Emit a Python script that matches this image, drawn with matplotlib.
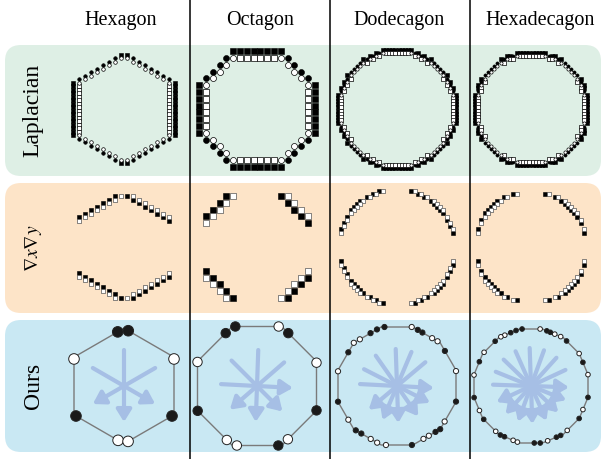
import numpy as np
import matplotlib.pyplot as plt
from matplotlib.patches import FancyBboxPatch, Circle, Polygon
from matplotlib.path import Path

plt.rcParams['font.family'] = ['Liberation Serif', 'DejaVu Serif']
plt.rcParams['mathtext.fontset'] = 'stix'

shape_names = ['Hexagon', 'Octagon', 'Dodecagon', 'Hexadecagon']
n_sides = [6, 8, 12, 16]
pointy_top = [True, False, False, False]
method_names = ['Laplacian', r'$\nabla x\nabla y$', 'Ours']

# boundary samples for "Ours": direction from the centre (deg) and filled (1) / hollow (0)
hexagon_dot_deg = [96.6, 85.6, 151.6, 28.4, -148, -32, -96.2, -85.8]
hexagon_dot_fill = [1, 1, 0, 0, 1, 1, 0, 0]
octagon_dot_deg = [120.6, 110, 70, 59.4, 158, -157.3, 21.4, -22.3, -119.2, -108.7, -70.3, -59.9]
octagon_dot_fill = [1, 1, 0, 1, 0, 1, 0, 1, 0, 0, 1, 0]
dodecagon_dot_deg = [116.6, 109.5, 102.0, 76.0, 69.7, 64.6, 53.7, 47.8, 36.2, 14.2, -14.8,
                     -36.7, -45, -50, -57.4, -63.4, -75.8, -100.6, -109.3, -116.4, -126.9,
                     -132.9, -145.3, -165.1, 166, 145.3, 135, 128.5]
dodecagon_dot_fill = [1, 1, 1, 0, 1, 1, 0, 0, 1, 0, 1,
                      0, 1, 1, 0, 0, 1, 0, 0, 0, 1,
                      1, 0, 1, 0, 1, 0, 0]
hexadecagon_dot_deg = [98.9, 105.1, 110.8, 117.3, 121.5, 128.7, 144.3, 154.8, 169.1, -168.5,
                       -154.6, -144.8, -127.9, -122, -117.6, -108.2, -103.6, -86.7, -80.8,
                       -73.1, -63.6, -59, -50.8, -34, -24.4, -11.3, 11.3, 24.5, 34, 51.7,
                       59, 65.4, 70.2, 74, 80.9]
hexadecagon_dot_fill = [1, 1, 1, 0, 0, 1, 0, 1, 0, 1,
                        0, 1, 0, 1, 1, 0, 0, 1, 1,
                        0, 1, 1, 0, 1, 0, 1, 0, 1, 0, 1,
                        0, 0, 1, 1, 0]

# arrow head directions (deg), each arrow runs through the centre
hexagon_arrow_deg = [-90, -150, -30]
octagon_arrow_deg = [-3, -45, -92, -139]
dodecagon_arrow_deg = [-3, -27, -55, -88, -113, -140]
hexadecagon_arrow_deg = [-2, -22, -44, -66, -88, -110, -132, -155]

dot_deg = [hexagon_dot_deg, octagon_dot_deg, dodecagon_dot_deg, hexadecagon_dot_deg]
dot_fill = [hexagon_dot_fill, octagon_dot_fill, dodecagon_dot_fill, hexadecagon_dot_fill]
arrow_deg = [hexagon_arrow_deg, octagon_arrow_deg, dodecagon_arrow_deg, hexadecagon_arrow_deg]

# layout (pixel units, y down)
col_x = [124, 257, 397, 531]
row_y = [109, 247, 386]
header_x = [121, 260, 399, 540]
grid_apothem = [48, 54, 57, 55.5]
cell_size = [(6.0, 3.5), (6.8, 6.8), (3.2, 3.2), (3.2, 3.2)]
lap_marker_px = [3.6, 6.0, 3.3, 3.2]
grad_marker_px = [4.0, 5.2, 3.4, 3.3]
ours_apothem = [50, 59.5, 59, 57]
dot_radius = [5.3, 4.7, 2.6, 2.3]
arrow_half = [36, 36, 37, 38]
arrow_color = '#a6bfe5'


def vertices(cx, cy, apothem, n, pointy):
    R = apothem / np.cos(np.pi / n)
    start = 90.0 if pointy else 90.0 + 180.0 / n
    a = np.deg2rad(start + 360.0 * np.arange(n) / n)
    return np.c_[cx + R * np.cos(a), cy - R * np.sin(a)]


def radius_at(theta, apothem, n, pointy):
    start = 90.0 if pointy else 90.0 + 180.0 / n
    normals = np.deg2rad(start + 180.0 / n + 360.0 * np.arange(n) / n)
    return apothem / np.max(np.cos(np.deg2rad(theta) - normals))


def boundary_cells(cx, cy, verts, hx, hy):
    m = int(72 / min(hx, hy)) + 1
    k = np.arange(-m, m)
    gx, gy = np.meshgrid(cx + (k + 0.5) * hx, cy + (k + 0.5) * hy)
    inside = Path(verts).contains_points(np.c_[gx.ravel(), gy.ravel()]).reshape(gx.shape)
    p = np.pad(inside, 1)
    left, right = p[1:-1, :-2], p[1:-1, 2:]
    up, down = p[:-2, 1:-1], p[2:, 1:-1]
    h_out, v_out = ~left | ~right, ~up | ~down
    h_in, v_in = left | right, up | down
    cells = {
        'inner': inside & (h_out | v_out),
        'inner_corner': inside & h_out & v_out,
        'outer': ~inside & (h_in | v_in),
        'outer_corner': ~inside & h_in & v_in,
    }
    return gx, gy, cells


def dots(ax, x, y, px, marker, filled, ec='black'):
    s = (px * 0.72) ** 2
    if filled:
        ax.scatter(x, y, s=s, marker=marker, facecolor='black', edgecolor='black', linewidths=0.4, zorder=3)
    else:
        ax.scatter(x, y, s=s, marker=marker, facecolor='white', edgecolor=ec, linewidths=0.5, zorder=3)


fig = plt.figure(figsize=(6.02, 4.59), dpi=100)
ax = fig.add_axes([0, 0, 1, 1])
ax.set_xlim(0, 602)
ax.set_ylim(459, 0)
ax.axis('off')

# coloured row bands
panel_colors = ['#deefe5', '#fde4c8', '#c9e8f3']
panel_top = [45, 183, 320]
panel_bottom = [176, 313, 452]
for c, t, b in zip(panel_colors, panel_top, panel_bottom):
    ax.add_patch(FancyBboxPatch((5, t), 596, b - t, boxstyle='round,pad=0,rounding_size=16',
                                fc=c, ec='none', zorder=0))

for x in [189.5, 329.5, 470]:
    ax.plot([x, x], [0, 459], color='black', lw=1.1, zorder=1)

for x, name in zip(header_x, shape_names):
    ax.text(x, 21, name, ha='center', va='center', fontsize=14.5)

label_size = [17, 14, 17]
for y, name, fs in zip([110, 248, 386], method_names, label_size):
    ax.text(33, y, name, ha='center', va='center', rotation=90, fontsize=fs)

for col, n in enumerate(n_sides):
    cx = col_x[col]
    hx, hy = cell_size[col]

    # Laplacian: outer ring filled, inner ring hollow; staircase corners as circles
    verts = vertices(cx, row_y[0], grid_apothem[col], n, pointy_top[col])
    gx, gy, c = boundary_cells(cx, row_y[0], verts, hx, hy)
    px = lap_marker_px[col]
    for key, filled in [('outer', True), ('inner', False)]:
        corner = c[key + '_corner']
        flat = c[key] & ~corner
        dots(ax, gx[flat], gy[flat], px, 's', filled)
        dots(ax, gx[corner], gy[corner], px, 'o', filled)

    # mixed derivative: only staircase corners, signed by quadrant
    verts = vertices(cx, row_y[1], grid_apothem[col], n, pointy_top[col])
    gx, gy, c = boundary_cells(cx, row_y[1], verts, hx, hy)
    sign = (gx - cx) * (gy - row_y[1]) > 0
    px = grad_marker_px[col]
    outer, inner = c['outer_corner'], c['inner_corner']
    black = (outer & sign) | (inner & ~sign)
    white = (outer & ~sign) | (inner & sign)
    dots(ax, gx[black], gy[black], px, 's', True)
    dots(ax, gx[white], gy[white], px, 's', False, ec='#555555')

    # ours: polygon, boundary samples and direction arrows
    cy = row_y[2]
    verts = vertices(cx, cy, ours_apothem[col], n, pointy_top[col])
    ax.add_patch(Polygon(verts, closed=True, fill=False, ec='#7a7a7a', lw=1.0, zorder=2))
    L = arrow_half[col]
    for a in arrow_deg[col]:
        u = np.array([np.cos(np.deg2rad(a)), -np.sin(np.deg2rad(a))])
        ax.annotate('', xy=(cx + L * u[0], cy + L * u[1]), xytext=(cx - L * u[0], cy - L * u[1]),
                    arrowprops=dict(arrowstyle='-|>,head_length=0.45,head_width=0.28', color=arrow_color,
                                    lw=3, shrinkA=0, shrinkB=0, mutation_scale=16), zorder=1.5)
    for a, f in zip(dot_deg[col], dot_fill[col]):
        r = radius_at(a, ours_apothem[col], n, pointy_top[col])
        x = cx + r * np.cos(np.deg2rad(a))
        y = cy - r * np.sin(np.deg2rad(a))
        ax.add_patch(Circle((x, y), dot_radius[col], fc='#1a1a1a' if f else 'white',
                            ec='#222222', lw=0.7, zorder=4))

fig.savefig('out.png', dpi=100)
